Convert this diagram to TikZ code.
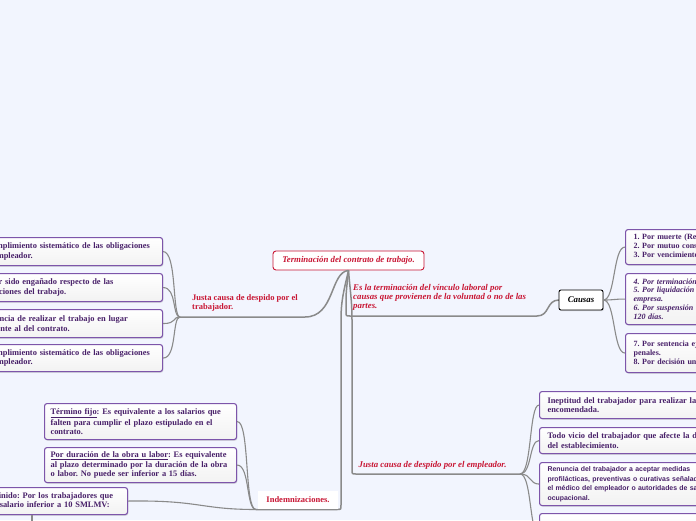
\documentclass[tikz,border=0pt]{standalone}
\usepackage{fontspec}
\setmainfont{Liberation Serif}
\newfontfamily\sansf{Liberation Sans}
\usetikzlibrary{shadows}
\frenchspacing
\definecolor{bg}{RGB}{242,245,254}
\definecolor{pb}{RGB}{125,85,170}
\definecolor{pt}{RGB}{72,32,105}
\definecolor{rd}{RGB}{200,22,52}
\definecolor{cg}{RGB}{138,138,138}
\tikzset{
  conn/.style={draw=cg, line width=1.1pt},
  mainconn/.style={draw=cg, line width=1.5pt},
  pbox/.style={draw=pb, line width=1.1pt, top color=white, bottom color=black!5,
    rounded corners=2.5pt, anchor=north west, align=left,
    font=\fontsize{8.4}{9.5}\selectfont\bfseries, text=pt, inner xsep=8pt, inner ysep=0pt,
    drop shadow={shadow xshift=0.8pt, shadow yshift=-1.2pt, opacity=0.25}},
  sbox/.style={pbox, font=\sansf\fontsize{6.9}{9.6}\selectfont\bfseries},
  redlbl/.style={text=rd, align=left, inner sep=0pt, font=\fontsize{8.5}{9}\selectfont\bfseries},
  reditl/.style={redlbl, font=\fontsize{8.8}{9}\selectfont\bfseries\itshape},
}
\begin{document}
\begin{tikzpicture}[x=1pt,y=-1pt]
\fill[bg] (0,0) rectangle (696,520);
\useasboundingbox (0,0) rectangle (696,520);

% central node
\node[draw=rd, line width=0.9pt, fill=white, rounded corners=3pt, minimum width=151pt, minimum height=19pt,
  inner sep=0pt, text=rd, font=\fontsize{8.8}{9}\selectfont\bfseries\itshape] (term) at (348.5,260.5)
  {Terminación del contrato de trabajo.};

\coordinate (ft) at (180,317);
\coordinate (fe) at (520,474);
\coordinate (fi) at (256,509.5);
\coordinate (tiB) at (32,545);

% main branches
\draw[mainconn] (term.south) .. controls (330,272) and (335,317) .. (305,317) -- (ft);
\draw[mainconn] (term.south) .. controls (347,285) and (346,292) .. (346,300) -- (346,312)
  .. controls (346,316) .. (350,316) -- (537,316) .. controls (550,316) and (546,300) .. (559,300);
\draw[mainconn] (term.south) .. controls (350,290) and (352,300) .. (352,320) -- (352,470)
  .. controls (352,474) .. (356,474) -- (fe);
\draw[mainconn] (term.south) .. controls (344,290) and (341,300) .. (341,320) -- (341,505)
  .. controls (341,509.5) .. (337,509.5) -- (fi);

% labels
\node[redlbl, anchor=north west] (jt) at (192,294) {Justa causa de despido por el\\trabajador.};
\node[reditl, anchor=north west] (es) at (353,284.5) {Es la terminación del vínculo laboral por\\causas que provienen de la voluntad o no de las\\partes.};
\node[reditl, anchor=west] (je) at (358.5,465) {Justa causa de despido por el empleador.};
\node[fill=white, minimum width=80pt, minimum height=18pt, inner sep=0pt, text=rd,
  font=\fontsize{8.5}{9}\selectfont\bfseries] (ind) at (298,499.5) {Indemnizaciones.};

\node[draw=black, line width=0.9pt, fill=white, rounded corners=2pt, minimum width=44pt, minimum height=20pt,
  inner sep=0pt, font=\fontsize{8.8}{9}\selectfont\bfseries\itshape,
  drop shadow={shadow xshift=0.8pt, shadow yshift=-1.2pt, opacity=0.3}] (causas) at (581,300) {Causas};

% left boxes (trabajador)
\node[pbox, minimum width=191pt, minimum height=28pt, text width=175pt] (t1) at (-29,237)
  {Incumplimiento sistemático de las obligaciones\\del empleador.};
\node[pbox, minimum width=191pt, minimum height=28pt, text width=175pt] (t2) at (-29,273)
  {Haber sido engañado respecto de las\\condiciones del trabajo.};
\node[pbox, minimum width=191pt, minimum height=28pt, text width=175pt] (t3) at (-29,309)
  {Exigencia de realizar el trabajo en lugar\\diferente al del contrato.};
\node[pbox, minimum width=191pt, minimum height=27pt, text width=175pt] (t4) at (-29,344)
  {Incumplimiento sistemático de las obligaciones\\del empleador.};
\foreach \b in {t1,t2,t3,t4}
  \draw[conn] (\b.east) .. controls +(14,0) and +(-8,0) .. (ft);

% indemnizaciones boxes
\node[pbox, minimum width=192pt, minimum height=36pt, text width=180pt, inner xsep=6pt] (tf) at (44,403)
  {\underline{Término fijo}: Es equivalente a los salarios que\\falten para cumplir el plazo estipulado en el\\contrato.};
\node[pbox, minimum width=192pt, minimum height=35pt, text width=180pt, inner xsep=6pt] (pd) at (44,447)
  {\underline{Por duración de la obra u labor}: Es equivalente\\al plazo determinado por la duración de la obra\\o labor. No puede ser inferior a 15 días.};
\node[pbox, minimum width=189pt, minimum height=27pt, text width=173pt] (ti) at (-62,487)
  {Término indefinido: Por los trabajadores que\\devenguen un salario inferior a 10 SMLMV:};
\draw[conn] (tf.east) .. controls (250,421) and (244,509.5) .. (fi);
\draw[conn] (pd.east) .. controls (250,465) and (246,509.5) .. (fi);
\draw[conn] (ti.east) .. controls (200,500) and (200,509.5) .. (fi);
\draw[conn] (ti.south -| tiB) -- (tiB);

% causas boxes
\node[pbox, minimum width=200pt, minimum height=35pt, text width=184pt, font=\fontsize{8}{9}\selectfont\bfseries] (c1) at (625,229)
  {1. Por muerte (Real o presunta).\\2. Por mutuo consentimiento.\\3. Por vencimiento del plazo.};
\node[pbox, minimum width=200pt, minimum height=51pt, text width=184pt, font=\fontsize{8}{8.8}\selectfont\bfseries\itshape] (c2) at (625,273)
  {4. Por terminación de la obra o labor.\\5. Por liquidación o clausura de la\\empresa.\\6. Por suspensión de actividades por más de\\120 días.};
\node[pbox, minimum width=200pt, minimum height=39pt, text width=184pt, font=\fontsize{8}{8.8}\selectfont\bfseries] (c3) at (625,333)
  {7. Por sentencia ejecutoriada o causas\\penales.\\8. Por decisión unilateral.};
\foreach \b in {c1,c2,c3}
  \draw[conn] (causas.east) .. controls +(12,0) and +(-12,0) .. (\b.west);

% employer boxes
\node[pbox, minimum width=220pt, minimum height=27pt, text width=204pt] (e1) at (539,391)
  {Ineptitud del trabajador para realizar la labor\\encomendada.};
\node[pbox, minimum width=220pt, minimum height=26pt, text width=204pt] (e2) at (539,427)
  {Todo vicio del trabajador que afecte la disciplina\\del establecimiento.};
\node[sbox, minimum width=220pt, minimum height=43pt, text width=204pt] (e3) at (539,462)
  {Renuncia del trabajador a aceptar medidas\\profilácticas, preventivas o curativas señaladas por\\el médico del empleador o autoridades de salud\\ocupacional.};
\node[pbox, minimum width=220pt, minimum height=40pt, text width=204pt] (e4) at (539,513) {};
\foreach \b in {e1,e2,e3,e4}
  \draw[conn] (fe) .. controls +(12,0) and +(-10,0) .. (\b.west);
\end{tikzpicture}
\end{document}
